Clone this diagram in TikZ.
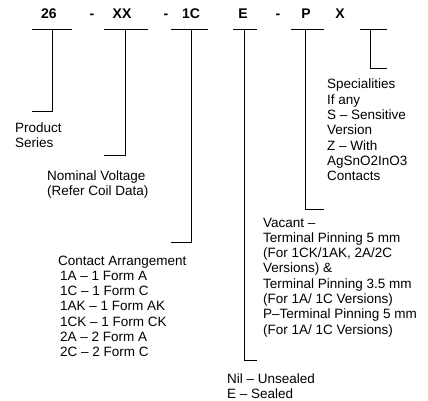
\documentclass[tikz,border=0pt]{standalone}
\usepackage{fontspec}
\setmainfont{Liberation Sans}
\newcommand\mlines[1]{\begin{tabular}[t]{@{}l@{}}#1\end{tabular}}
\begin{document}
\begin{tikzpicture}[x=1pt,y=-1pt,
  code/.style={font=\bfseries\fontsize{14}{16}\selectfont, anchor=base, inner sep=0pt},
  desc/.style={font=\fontsize{13.5}{15.3}\selectfont, anchor=base west, inner sep=0pt},
  bracket/.style={draw=black, line width=0.8pt}]
\useasboundingbox (0,0) rectangle (428,401);
% header codes
\node[code] (c26) at (49,19) {26};
\node[code] (d1) at (92,19) {-};
\node[code] (cXX) at (122,19) {XX};
\node[code] (d2) at (166,19) {-};
\node[code] (c1C) at (191,19) {1C};
\node[code] (cE) at (243,19) {E};
\node[code] (d3) at (278,19) {-};
\node[code] (cP) at (306,19) {P};
\node[code] (cX) at (340,19) {X};
% brackets
\draw[bracket] (32,29) -- (72,29) (52,29) -- (52,111) -- (32,111);
\draw[bracket] (104,29) -- (148,29) (125,29) -- (125,155) -- (104,155);
\draw[bracket] (171,29) -- (208,29) (191,29) -- (191,242) -- (171,242);
\draw[bracket] (233,29) -- (257,29) (244,29) -- (244,360) -- (257,360);
\draw[bracket] (291,29) -- (324,29) (305,29) -- (305,209) -- (324,209);
\draw[bracket] (360,29) -- (387,29) (370,29) -- (370,68) -- (387,68);
% descriptions
\node[desc] (series) at (15,132) {\mlines{Product\\Series}};
\node[desc] (volt) at (47,180) {\mlines{Nominal Voltage\\(Refer Coil Data)}};
\node[desc] (contact) at (58,265) {\mlines{Contact Arrangement\\\hspace*{2pt}1A – 1 Form A\\\hspace*{2pt}1C – 1 Form C\\\hspace*{2pt}1AK – 1 Form AK\\\hspace*{2pt}1CK – 1 Form CK\\\hspace*{2pt}2A – 2 Form A\\\hspace*{2pt}2C – 2 Form C}};
\node[desc] (spec) at (327,89) {\mlines{Specialities\\If any\\S – Sensitive\\Version\\Z – With\\AgSnO2InO3\\Contacts}};
\node[desc] (pin) at (263,227) {\mlines{Vacant –\\Terminal Pinning 5 mm\\(For 1CK/1AK, 2A/2C\\Versions) \&\\Terminal Pinning 3.5 mm\\(For 1A/ 1C Versions)\\P–Terminal Pinning 5 mm\\(For 1A/ 1C Versions)}};
\node[desc] (seal) at (227,383) {\mlines{Nil – Unsealed\\E – Sealed}};
\end{tikzpicture}
\end{document}
